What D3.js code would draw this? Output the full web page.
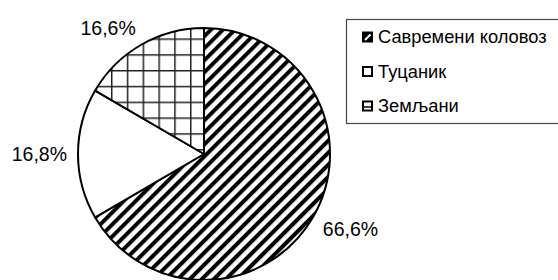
<!DOCTYPE html>
<html><head><meta charset="utf-8">
<script src="https://cdn.jsdelivr.net/npm/d3@7"></script>
<style>body{margin:0;background:#fff}svg{display:block;font-family:"Liberation Sans",Arial,sans-serif}</style>
</head><body>
<svg id="c" width="558" height="280"></svg>
<script>
const categories = ["Савремени коловоз", "Туцаник", "Земљани"];
const values = [66.6, 16.8, 16.6];
const labels = ["66,6%", "16,8%", "16,6%"];

const svg = d3.select("#c");
const defs = svg.append("defs");
const diag = defs.append("pattern").attr("id","diag").attr("patternUnits","userSpaceOnUse")
  .attr("width",8.5).attr("height",8.5).attr("patternTransform","rotate(45)");
diag.append("rect").attr("width",8.5).attr("height",8.5).attr("fill","#fff");
diag.append("rect").attr("width",4).attr("height",8.5).attr("fill","#000");
const grid = defs.append("pattern").attr("id","grid").attr("patternUnits","userSpaceOnUse")
  .attr("width",15.8).attr("height",15.8).attr("x",1.8).attr("y",10.8);
grid.append("rect").attr("width",15.8).attr("height",15.8).attr("fill","#fff");
grid.append("path").attr("d","M0,0.75H15.8M0.75,0V15.8").attr("stroke","#222").attr("stroke-width",1.5);
const fills = ["url(#diag)", "#fff", "url(#grid)"];

const cx = 204, cy = 154, r = 126;
const pie = d3.pie().sort(null).value(d => d);
const arcs = pie(values);
const arc = d3.arc().innerRadius(0).outerRadius(r);
const g = svg.append("g").attr("transform", `translate(${cx},${cy})`);
g.selectAll("path").data(arcs).join("path")
  .attr("d", arc).attr("fill", (d,i) => fills[i])
  .attr("stroke", "#000").attr("stroke-width", 2).attr("stroke-linejoin","round");

// labels: outside end, box corner placed just outside the rim
const labelArc = d3.arc().innerRadius(r + 11).outerRadius(r + 11);
const clamp = v => Math.max(-1, Math.min(1, v));
g.selectAll("text.lbl").data(arcs).join("text").attr("class","lbl")
  .attr("text-anchor","middle").attr("dy","0.35em")
  .attr("font-size", 19.5).attr("fill","#000")
  .text((d,i) => labels[i])
  .each(function(d) {
    const b = this.getBBox();
    const c = labelArc.centroid(d);
    const a = (d.startAngle + d.endAngle) / 2;
    const x = c[0] + clamp(Math.sin(a) * 3) * b.width / 2;
    const y = c[1] - clamp(Math.cos(a) * 2) * 14 / 2;
    d3.select(this).attr("x", x).attr("y", y);
  });

// legend
const lg = svg.append("g");
lg.append("rect").attr("x",346.5).attr("y",19.5).attr("width",220).attr("height",104)
  .attr("fill","none").attr("stroke","#444").attr("stroke-width",1.2);
const ly = d3.scalePoint().domain(categories).range([37, 106]);
categories.forEach((c,i) => {
  const y = ly(c);
  const m = lg.append("g").attr("transform", `translate(362,${y - 5.5})`);
  if (i === 0) {
    m.append("rect").attr("x",0).attr("y",0).attr("width",11).attr("height",11).attr("fill","#000");
    m.append("path").attr("d","M3,8.5L8.5,3").attr("stroke","#fff").attr("stroke-width",2);
  } else {
    m.append("rect").attr("x",1).attr("y",1).attr("width",9).attr("height",9).attr("fill","#fff").attr("stroke","#000").attr("stroke-width",2);
    if (i === 2) m.append("path").attr("d","M1,6.5H10").attr("stroke","#000").attr("stroke-width",1.5);
  }
  lg.append("text").attr("x",378).attr("y",y).attr("dy","0.35em")
    .attr("font-size",18.3).attr("fill","#000").text(c);
});
</script>
</body></html>
